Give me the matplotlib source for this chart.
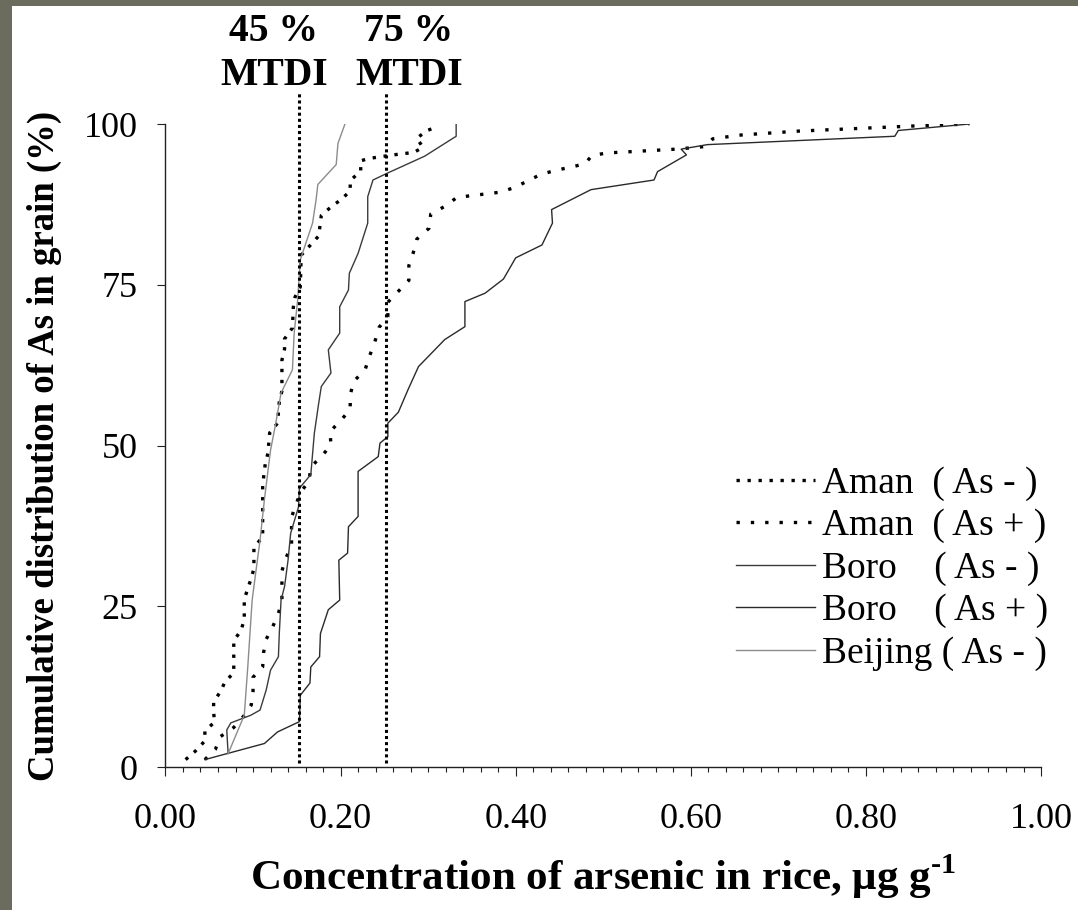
import numpy as np
import matplotlib
matplotlib.use('Agg')
import matplotlib.pyplot as plt
from matplotlib.patches import Rectangle

plt.rcParams['font.family'] = ['Liberation Serif', 'DejaVu Serif']
plt.rcParams['mathtext.fontset'] = 'custom'
plt.rcParams['mathtext.rm'] = 'Liberation Serif'
plt.rcParams['mathtext.bf'] = 'Liberation Serif:bold'

# cumulative distributions (conc. ug/g, cumulative %)
amanNegX = [0.023, 0.034, 0.045, 0.045, 0.056, 0.055, 0.055, 0.063, 0.068, 0.078,
            0.078, 0.086, 0.090, 0.090, 0.094, 0.098, 0.101, 0.101, 0.111, 0.111,
            0.114, 0.117, 0.119, 0.128, 0.130, 0.133, 0.133, 0.136, 0.136, 0.145,
            0.146, 0.148, 0.154, 0.155, 0.165, 0.175, 0.178, 0.189, 0.201, 0.211,
            0.211, 0.223, 0.223, 0.235, 0.260, 0.284, 0.294, 0.287, 0.299, 0.311]
amanNegY = [1.2, 2.5, 4.1, 5.7, 7.0, 8.6, 10.2, 11.8, 13.3, 14.7,
            19.7, 21.2, 22.9, 26.1, 27.8, 29.4, 30.9, 34.2, 35.8, 43.9,
            47.2, 48.8, 52.0, 53.5, 56.8, 58.5, 63.3, 65.0, 66.6, 68.3,
            71.5, 73.1, 74.7, 79.6, 81.1, 82.6, 85.8, 87.1, 88.3, 89.6,
            91.2, 92.7, 94.3, 94.7, 95.2, 95.6, 96.4, 97.8, 99.0, 99.6]

amanPosX = [0.045, 0.057, 0.063, 0.078, 0.089, 0.098, 0.100, 0.100, 0.111, 0.112,
            0.115, 0.122, 0.129, 0.133, 0.133, 0.137, 0.144, 0.144, 0.154, 0.164,
            0.166, 0.178, 0.189, 0.188, 0.200, 0.211, 0.211, 0.215, 0.228, 0.233,
            0.239, 0.244, 0.254, 0.254, 0.266, 0.278, 0.278, 0.283, 0.287, 0.301,
            0.303, 0.319, 0.333, 0.382, 0.398, 0.413, 0.429, 0.446, 0.479, 0.487,
            0.504, 0.584, 0.600, 0.616, 0.625, 0.641, 0.658, 0.723, 0.789, 0.855,
            0.918]
amanPosY = [1.2, 2.8, 4.8, 6.2, 7.9, 9.7, 11.8, 14.0, 15.6, 17.8,
            19.9, 21.7, 23.9, 26.1, 30.5, 32.4, 34.4, 38.9, 42.7, 44.5,
            46.7, 48.3, 50.1, 52.2, 53.9, 55.6, 57.9, 60.0, 61.8, 63.9,
            66.1, 68.4, 70.1, 72.3, 74.0, 75.7, 78.0, 80.0, 82.1, 83.8,
            86.0, 87.2, 88.6, 89.4, 90.1, 91.1, 92.2, 92.8, 93.8, 95.1,
            95.5, 96.1, 96.3, 96.5, 97.7, 98.0, 98.3, 98.9, 99.3, 99.7,
            100.0]

boroNegX = [0.0715, 0.070, 0.0746, 0.0975, 0.108, 0.115, 0.120, 0.129, 0.130, 0.132,
            0.136, 0.140, 0.143, 0.152, 0.153, 0.166, 0.170, 0.175, 0.178, 0.189,
            0.186, 0.199, 0.199, 0.209, 0.210, 0.220, 0.231, 0.231, 0.237, 0.254,
            0.296, 0.332, 0.332]
boroNegY = [2.2, 5.8, 6.9, 8.1, 8.9, 12.0, 15.1, 17.2, 20.8, 26.0,
            28.1, 32.2, 36.4, 40.5, 43.4, 45.5, 51.9, 56.6, 59.2, 61.3,
            64.9, 67.5, 71.6, 74.2, 76.8, 79.9, 84.6, 88.7, 91.3, 92.4,
            95.0, 98.1, 100.0]

boroPosX = [0.045, 0.113, 0.128, 0.153, 0.154, 0.165, 0.166, 0.176, 0.177, 0.186,
            0.199, 0.198, 0.208, 0.209, 0.220, 0.220, 0.243, 0.245, 0.254, 0.254,
            0.266, 0.277, 0.289, 0.319, 0.342, 0.342, 0.365, 0.386, 0.400, 0.430,
            0.442, 0.441, 0.486, 0.558, 0.562, 0.595, 0.589, 0.619, 0.833, 0.837,
            0.918]
boroPosY = [1.2, 3.7, 5.5, 7.1, 11.2, 13.1, 15.6, 17.2, 20.8, 24.5,
            26.0, 32.2, 33.3, 37.4, 39.0, 46.0, 48.3, 50.4, 51.4, 53.5,
            55.2, 58.7, 62.3, 66.5, 68.5, 72.4, 73.7, 75.9, 79.2, 81.2,
            84.6, 86.7, 89.8, 91.3, 92.6, 95.2, 96.1, 96.8, 98.1, 99.0,
            100.0]

beijingX = [0.0715, 0.090, 0.094, 0.099, 0.104, 0.108, 0.113, 0.120, 0.126, 0.132,
            0.145, 0.147, 0.151, 0.154, 0.168, 0.172, 0.174, 0.195, 0.197, 0.205]
beijingY = [2.1, 8.1, 15.6, 26.0, 31.2, 35.3, 41.6, 49.3, 53.5, 58.2,
            61.8, 67.5, 72.7, 78.9, 84.6, 88.2, 90.6, 93.7, 97.0, 100.0]

mtdiX = [0.152, 0.252]
mtdiLabels = ['45 %\nMTDI', '75 %\nMTDI']
mtdiTextX = [0.124, 0.278]

labels = ['Aman  ( As - )', 'Aman  ( As + )', 'Boro    ( As - )',
          'Boro    ( As + )', 'Beijing ( As - )']

fig = plt.figure(figsize=(10.78, 9.10), dpi=100, facecolor='#6b6b5e')
fig.patches.append(Rectangle((12/1078, 0), 1, 904/910, transform=fig.transFigure,
                             facecolor='white', edgecolor='none', zorder=-1))
ax = fig.add_axes([0.1535, 0.1568, 0.8122, 0.7069])
ax.patch.set_visible(False)

ax.plot(amanNegX, amanNegY, color='black', lw=2.4, linestyle=(0, (1, 2.3)),
        dash_capstyle='butt', label=labels[0])
ax.plot(amanPosX, amanPosY, color='black', lw=2.4, linestyle=(0, (1, 3.3)),
        dash_capstyle='butt', label=labels[1])
ax.plot(boroNegX, boroNegY, color='#3a3a3a', lw=1.0, label=labels[2])
ax.plot(boroPosX, boroPosY, color='#2a2a2a', lw=1.0, label=labels[3])
ax.plot(beijingX, beijingY, color='#8c8c8c', lw=1.0, label=labels[4])

for xv in mtdiX:
    ax.plot([xv, xv], [0.7, 104.9], color='black', lw=2.2, linestyle=(0, (1, 1)),
            dash_capstyle='butt', clip_on=False)
for xt, txt in zip(mtdiTextX, mtdiLabels):
    ax.text(xt, 111.0, txt, ha='center', va='center', fontsize=28.5,
            fontweight='bold', linespacing=1.25)

ax.set_xlim(0, 1)
ax.set_ylim(0, 100)
ax.spines['top'].set_visible(False)
ax.spines['right'].set_visible(False)
for s in ['left', 'bottom']:
    ax.spines[s].set_color('#222222')
    ax.spines[s].set_linewidth(1.0)

ax.set_xticks(np.arange(0, 1.01, 0.2))
ax.set_xticklabels(['%.2f' % v for v in np.arange(0, 1.01, 0.2)])
ax.set_xticks(np.arange(0, 1.001, 0.02), minor=True)
ax.set_yticks([0, 25, 50, 75, 100])
ax.tick_params(axis='x', which='major', direction='out', length=6.5, width=0.8,
               labelsize=26, pad=19, color='#222222')
ax.tick_params(axis='x', which='minor', direction='out', length=3.6, width=0.8,
               color='#222222')
ax.tick_params(axis='y', direction='out', length=5.8, width=0.8, labelsize=26,
               pad=14, color='#222222')

ax.set_xlabel('Concentration of arsenic in rice, μg g$^{\\mathbf{\u2010}\\mathbf{1}}$',
              fontsize=31, fontweight='bold', labelpad=12)
ax.set_ylabel('Cumulative distribution of As in grain (%)', fontsize=26.5,
              fontweight='bold', labelpad=16)

ax.legend(loc='center right', bbox_to_anchor=(1.03, 0.309), frameon=False,
          fontsize=27, handlelength=2.1, handletextpad=0.2, labelspacing=0.21,
          borderpad=0)

fig.savefig('out.png', dpi=100, facecolor=fig.get_facecolor())
